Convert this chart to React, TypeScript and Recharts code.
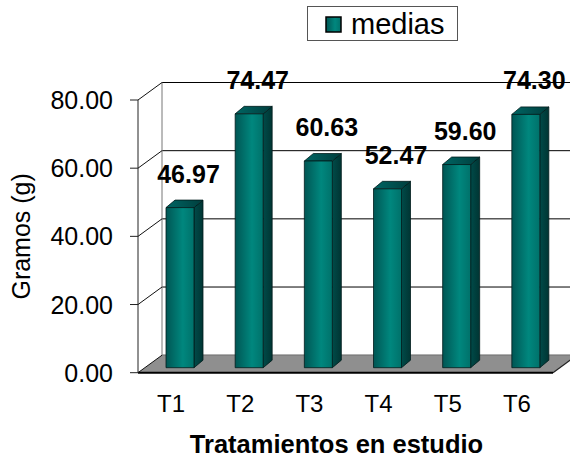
import { BarChart, Bar, XAxis, YAxis, CartesianGrid, LabelList, Legend, ReferenceArea } from 'recharts'

const tratamientos = ['T1', 'T2', 'T3', 'T4', 'T5', 'T6']
const medias = [46.97, 74.47, 60.63, 52.47, 59.6, 74.3]
const yTicks = [0, 20, 40, 60, 80]

const data = tratamientos.map((t, i) => ({ tratamiento: t, medias: medias[i] }))

// plot box (front plane of the 3d box)
const W = 570
const H = 459
const PLOT_LEFT = 138
const PLOT_RIGHT = 553
const PLOT_TOP = 100
const PLOT_BOTTOM = 372.7
const Y_AXIS_W = 100
const X_AXIS_H = 40
const LEGEND_H = 35

// depth of the walls and of the bars
const DX = 24
const DY = -17.5
const BAR_DX = 7
const BAR_DY = -5
const SIDE_DX = 9
const SIDE_DY = -7.5

const FONT = '"Liberation Sans", Arial, sans-serif'

function Bar3D(props: any) {
  const { x, y, width, height } = props
  if (height == null || height <= 0) return null
  const fx = x + BAR_DX
  const fy = y + BAR_DY
  const r = fx + width
  const b = fy + height
  return (
    <g stroke="#001c1c" strokeWidth={0.8} strokeLinejoin="round">
      <polygon points={`${r},${fy} ${r + SIDE_DX},${fy + SIDE_DY} ${r + SIDE_DX},${b + SIDE_DY} ${r},${b}`} fill="url(#sideGrad)" />
      <polygon points={`${fx},${fy} ${fx + SIDE_DX},${fy + SIDE_DY} ${r + SIDE_DX},${fy + SIDE_DY} ${r},${fy}`} fill="url(#topGrad)" />
      <rect x={fx} y={fy} width={width} height={height} fill="url(#frontGrad)" />
    </g>
  )
}

function Floor(props: any) {
  const { x, width } = props
  const b = PLOT_BOTTOM
  const r = x + width
  return (
    <g>
      <polygon points={`${x},${b} ${r},${b} ${r + DX},${b + DY} ${x + DX},${b + DY}`} fill="#8f8f8f" />
      <line x1={r} y1={b} x2={r + DX} y2={b + DY} stroke="#222" strokeWidth={1.2} />
      <line x1={x} y1={b} x2={r} y2={b} stroke="#000" strokeWidth={2} />
    </g>
  )
}

function YTick(props: any) {
  const { x, y, payload } = props
  const ax = x + 8
  return (
    <g>
      <line x1={ax} y1={y} x2={ax + DX} y2={y + DY} stroke="#111" />
      <text x={x - 17} y={y + 9} textAnchor="end" fontFamily={FONT} fontSize={25} fill="#000">
        {Number(payload.value).toFixed(2)}
      </text>
    </g>
  )
}

function XTick(props: any) {
  const { x, y, payload } = props
  return (
    <text x={x - 1.5} y={y + 39} textAnchor="middle" fontFamily={FONT} fontSize={24} fill="#000">
      {payload.value}
    </text>
  )
}

function ValueLabel(props: any) {
  const { x, y, width, value } = props
  return (
    <text
      x={x + BAR_DX + width / 2 + 8.5}
      y={y + BAR_DY - 25}
      textAnchor="middle"
      fontFamily={FONT}
      fontWeight="bold"
      fontSize={25}
      fill="#000"
    >
      {Number(value).toFixed(2)}
    </text>
  )
}

function LegendBox() {
  return (
    <div
      style={{
        boxSizing: 'border-box',
        width: 151,
        height: LEGEND_H,
        border: '1px solid #555',
        background: '#fff',
        position: 'relative',
        fontFamily: FONT,
      }}
    >
      <svg width={151} height={LEGEND_H} style={{ position: 'absolute', left: -1, top: -1 }}>
        <defs>
          <linearGradient id="legendGrad" x1="0" y1="0" x2="1" y2="0">
            <stop offset="0" stopColor="#005654" />
            <stop offset="0.6" stopColor="#00877e" />
            <stop offset="1" stopColor="#00716a" />
          </linearGradient>
        </defs>
        <rect x={19} y={11} width={15} height={15} fill="url(#legendGrad)" stroke="#000" strokeWidth={1.5} />
        <text x={44} y={28} fontFamily={FONT} fontSize={29} fill="#000">
          medias
        </text>
      </svg>
    </div>
  )
}

export default function App() {
  return (
    <div style={{ position: 'absolute', left: 0, top: 0, width: W, height: H, background: '#fff' }}>
      <BarChart
        width={W}
        height={H}
        data={data}
        barSize={28}
        margin={{
          top: PLOT_TOP - LEGEND_H,
          right: W - PLOT_RIGHT,
          bottom: H - PLOT_BOTTOM - X_AXIS_H,
          left: PLOT_LEFT - Y_AXIS_W,
        }}
      >
        <defs>
          <linearGradient id="frontGrad" x1="0" y1="0" x2="1" y2="0">
            <stop offset="0" stopColor="#005654" />
            <stop offset="0.6" stopColor="#00877e" />
            <stop offset="1" stopColor="#00716a" />
          </linearGradient>
          <linearGradient id="sideGrad" x1="0" y1="0" x2="1" y2="0">
            <stop offset="0" stopColor="#004b49" />
            <stop offset="1" stopColor="#003533" />
          </linearGradient>
          <linearGradient id="topGrad" x1="0" y1="0" x2="1" y2="0">
            <stop offset="0" stopColor="#006563" />
            <stop offset="1" stopColor="#003e3d" />
          </linearGradient>
        </defs>
        <Legend
          verticalAlign="top"
          height={LEGEND_H}
          wrapperStyle={{ top: 6, left: 307, width: 151, height: LEGEND_H }}
          content={() => <LegendBox />}
        />
        <CartesianGrid
          verticalPoints={[PLOT_LEFT]}
          horizontal={(p: any) => (
            <line key={p.key} x1={p.x1 + DX} y1={p.y1 + DY} x2={p.x2 + DX + 30} y2={p.y2 + DY} stroke="#000" />
          )}
          vertical={(p: any) => (
            <line key={p.key} x1={p.x1 + DX} y1={p.y1 + DY} x2={p.x2 + DX} y2={p.y2 + DY} stroke="#777" />
          )}
        />
        <ReferenceArea y1={0} y2={4} ifOverflow="visible" shape={<Floor />} />
        <XAxis
          dataKey="tratamiento"
          height={X_AXIS_H}
          axisLine={false}
          tickLine={false}
          tickSize={0}
          tickMargin={0}
          tick={<XTick />}
          label={(p: any) => {
            const vb = p.viewBox
            return (
              <text
                x={vb.x + vb.width / 2 - 9}
                y={vb.y + 80}
                textAnchor="middle"
                fontFamily={FONT}
                fontWeight="bold"
                fontSize={25.5}
                fill="#000"
              >
                Tratamientos en estudio
              </text>
            )
          }}
        />
        <YAxis
          width={Y_AXIS_W}
          domain={[0, 80]}
          ticks={yTicks}
          tickSize={8}
          tickMargin={0}
          axisLine={{ stroke: '#222' }}
          tickLine={{ stroke: '#222' }}
          tick={<YTick />}
          label={(p: any) => {
            const vb = p.viewBox
            const cx = 30
            const cy = vb.y + vb.height / 2
            return (
              <text
                x={cx}
                y={cy}
                transform={`rotate(-90 ${cx} ${cy})`}
                textAnchor="middle"
                fontFamily={FONT}
                fontSize={25}
                fill="#000"
              >
                Gramos (g)
              </text>
            )
          }}
        />
        <Bar dataKey="medias" shape={<Bar3D />} isAnimationActive={false}>
          <LabelList dataKey="medias" content={<ValueLabel />} />
        </Bar>
      </BarChart>
    </div>
  )
}
